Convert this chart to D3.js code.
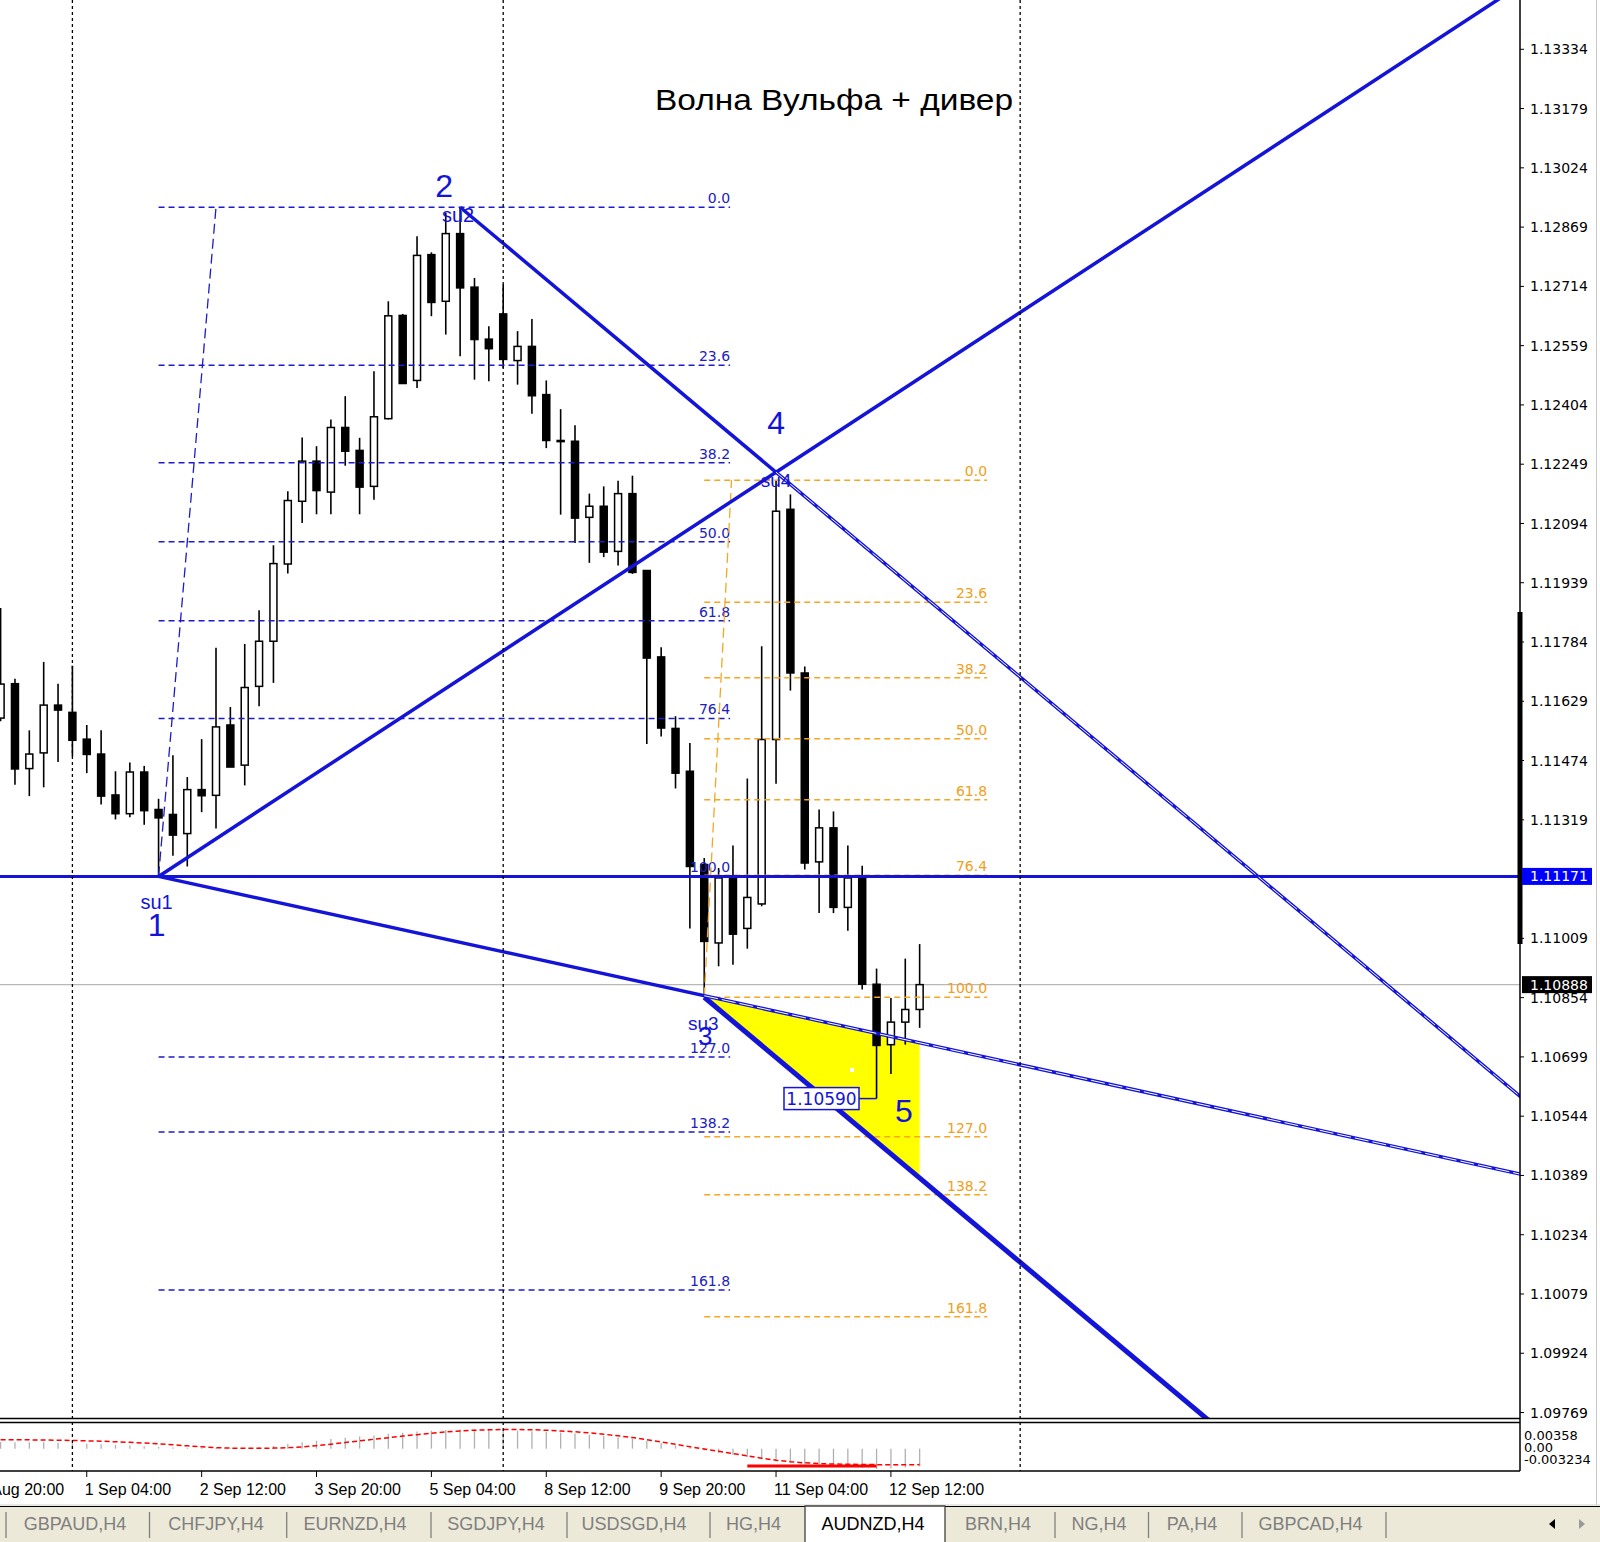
<!DOCTYPE html>
<html><head><meta charset="utf-8">
<script src="https://cdn.jsdelivr.net/npm/d3@7"></script>
<style>body{margin:0;background:#fff;overflow:hidden}svg{display:block}</style>
</head><body><script>
// ---------------- DATA ----------------
const firstBar = -5; // index of first bar (bar 0 = 1 Sep 00:00, H4)
const opens  = [1.11585,1.11675,1.11453,1.11494,1.11619,1.11600,1.11530,1.11491,1.11384,1.11335,1.11444,1.11346,1.11333,1.11283,1.11398,1.11383,1.11567,1.11462,1.11668,1.11786,1.11988,1.12152,1.12257,1.12176,1.12345,1.12285,1.12191,1.12368,1.12638,1.12468,1.12797,1.12675,1.12852,1.12712,1.12576,1.12642,1.12520,1.12557,1.12431,1.12311,1.12309,1.12110,1.12139,1.12021,1.12172,1.11971,1.11745,1.11558,1.11446,1.11202,1.10997,1.11165,1.11035,1.11099,1.11529,1.12131,1.11703,1.11209,1.11298,1.11090,1.11167,1.10889,1.10731,1.10790,1.10823];
const highs  = [1.11873,1.11688,1.11553,1.11732,1.11675,1.11722,1.11567,1.11553,1.11446,1.11469,1.11460,1.11374,1.11488,1.11431,1.11530,1.11769,1.11614,1.11779,1.11867,1.12037,1.12178,1.12319,1.12296,1.12366,1.12427,1.12318,1.12492,1.12675,1.12642,1.12845,1.12803,1.12906,1.12921,1.12736,1.12610,1.12719,1.12597,1.12629,1.12468,1.12393,1.12351,1.12172,1.12191,1.12206,1.12219,1.11971,1.11770,1.11590,1.11520,1.11219,1.11193,1.11252,1.11427,1.11773,1.12207,1.12170,1.11720,1.11346,1.11341,1.11252,1.11199,1.10930,1.10853,1.10956,1.10994];
const lows   = [1.11577,1.11411,1.11381,1.11404,1.11470,1.11485,1.11441,1.11359,1.11320,1.11326,1.11306,1.11171,1.11225,1.11197,1.11339,1.11296,1.11457,1.11409,1.11616,1.11677,1.11963,1.12095,1.12118,1.12118,1.12245,1.12118,1.12156,1.12366,1.12460,1.12448,1.12636,1.12588,1.12531,1.12470,1.12466,1.12501,1.12457,1.12381,1.12291,1.12117,1.12043,1.11991,1.12006,1.11984,1.11962,1.11517,1.11537,1.11401,1.11035,1.10855,1.10936,1.10940,1.10982,1.11093,1.11413,1.11657,1.11189,1.11075,1.11075,1.11029,1.10875,1.10590,1.10654,1.10731,1.10775];
const closes = [1.11674,1.11452,1.11491,1.11619,1.11606,1.11527,1.11490,1.11381,1.11335,1.11444,1.11343,1.11324,1.11279,1.11398,1.11382,1.11562,1.11457,1.11665,1.11786,1.11989,1.12154,1.12257,1.12180,1.12345,1.12283,1.12189,1.12373,1.12637,1.12460,1.12795,1.12672,1.12852,1.12710,1.12575,1.12551,1.12523,1.12557,1.12428,1.12311,1.12308,1.12108,1.12139,1.12019,1.12172,1.11966,1.11742,1.11559,1.11441,1.11197,1.11001,1.11167,1.11020,1.11116,1.11529,1.12126,1.11703,1.11206,1.11298,1.11090,1.11167,1.10889,1.10729,1.10790,1.10823,1.10888];

const macdMain   = [0.00100,0.00098,0.00095,0.00095,0.00090,0.00082,0.00075,0.00068,0.00058,0.00048,0.00038,0.00025,0.00018,0.00012,0.00010,0.00012,0.00010,0.00015,0.00022,0.00040,0.00070,0.00098,0.00120,0.00145,0.00165,0.00185,0.00200,0.00225,0.00240,0.00258,0.00272,0.00283,0.00290,0.00290,0.00287,0.00280,0.00272,0.00262,0.00252,0.00242,0.00228,0.00210,0.00190,0.00172,0.00150,0.00118,0.00085,0.00048,0.00010,-0.00030,-0.00065,-0.00095,-0.00125,-0.00160,-0.00190,-0.00215,-0.00245,-0.00262,-0.00275,-0.00285,-0.00295,-0.00310,-0.00300,-0.00285,-0.00270];
const macdSignal = [0.00134,0.00134,0.00133,0.00131,0.00128,0.00124,0.00118,0.00112,0.00104,0.00095,0.00085,0.00072,0.00058,0.00042,0.00028,0.00015,0.00008,0.00005,0.00005,0.00008,0.00015,0.00025,0.00045,0.00068,0.00092,0.00118,0.00142,0.00165,0.00190,0.00212,0.00232,0.00252,0.00268,0.00279,0.00286,0.00289,0.00289,0.00286,0.00279,0.00268,0.00255,0.00238,0.00218,0.00195,0.00168,0.00135,0.00100,0.00065,0.00030,-0.00005,-0.00040,-0.00075,-0.00110,-0.00145,-0.00175,-0.00198,-0.00215,-0.00226,-0.00233,-0.00237,-0.00240,-0.00242,-0.00243,-0.00243,-0.00242];
const macdAxisLabels = ["0.00358","0.00","-0.003234"];
const macdAxisValues = [0.00358, 0.0, -0.003234];
const divergenceBars = [47, 56];
const divergenceValue = -0.00263;

const timeTickBars   = [-7,1,9,17,25,33,41,49,57];
const timeTickLabels = ["28 Aug 20:00","1 Sep 04:00","2 Sep 12:00","3 Sep 20:00","5 Sep 04:00","8 Sep 12:00","9 Sep 20:00","11 Sep 04:00","12 Sep 12:00"];
const separatorBars  = [0, 30, 66];

const priceTicks = [1.13334,1.13179,1.13024,1.12869,1.12714,1.12559,1.12404,1.12249,1.12094,1.11939,1.11784,1.11629,1.11474,1.11319,1.11009,1.10854,1.10699,1.10544,1.10389,1.10234,1.10079,1.09924,1.09769];
const hLinePrice = 1.11171;
const bidPrice = 1.10888;
const lowMarkPrice = 1.10590;

const wavePoints = [ // Wolfe wave pivots
  {name:"1", bar:6,  price:1.11171},
  {name:"2", bar:27, price:1.12921},
  {name:"3", bar:44, price:1.10855},
  {name:"4", bar:49, price:1.12228},
  {name:"5", bar:59, price:null}
];
const line13Anchor = {bar:44, price:1.10859};

const fibLevels = [0.0,23.6,38.2,50.0,61.8,76.4,100.0,127.0,138.2,161.8];
const fibBlue   = {fromBar:6,  fromPrice:1.11171, toBar:10,   toPrice:1.12921, endBar:45.8};
const fibOrange = {fromBar:44, fromPrice:1.10855, toBar:45.9, toPrice:1.12207, endBar:63.7};

const tabNames   = ["GBPAUD,H4","CHFJPY,H4","EURNZD,H4","SGDJPY,H4","USDSGD,H4","HG,H4","AUDNZD,H4","BRN,H4","NG,H4","PA,H4","GBPCAD,H4"];
const activeTab  = "AUDNZD,H4";
const title = "Волна Вульфа + дивер";

// ---------------- LAYOUT ----------------
const W=1600,H=1542;
const plotR=1520, mainB=1418, indT=1423, indB=1471;
const x  = d3.scaleLinear().domain([-5.042,100.808]).range([0,plotR]);
const y  = d3.scaleLinear().domain([1.097513,1.134595]).range([mainB+1.3,1.3]);
const yi = d3.scaleLinear().domain([-0.003234,0.00358]).range([1470,1425]);
const BLUE="#1414d8", FIBBLUE="#1c1cc8", ORANGE="#f5a623";

const bars = d3.range(opens.length).map(i=>({bar:firstBar+i,o:opens[i],h:highs[i],l:lows[i],c:closes[i],m:macdMain[i],s:macdSignal[i]}));

const svg = d3.select("body").append("svg").attr("width",W).attr("height",H);
svg.append("rect").attr("width",W).attr("height",H).attr("fill","#fff");
const defs = svg.append("defs");
defs.append("clipPath").attr("id","cm").append("rect").attr("x",0).attr("y",0).attr("width",plotR).attr("height",mainB);
defs.append("clipPath").attr("id","ci").append("rect").attr("x",0).attr("y",indT).attr("width",plotR).attr("height",indB-indT);

const main = svg.append("g").attr("clip-path","url(#cm)");
const ind  = svg.append("g").attr("clip-path","url(#ci)");

// period separators
separatorBars.forEach(b=>{
  svg.append("line").attr("x1",x(b)).attr("x2",x(b)).attr("y1",0).attr("y2",indB)
    .attr("stroke","#000").attr("stroke-width",1.3).attr("stroke-dasharray","3,3");
});

// helpers
const P = (bar,price)=>[x(bar),y(price)];
function extend(p1,p2,t){return [p1[0]+(p2[0]-p1[0])*t, p1[1]+(p2[1]-p1[1])*t];}
function atX(p1,p2,xx){const t=(xx-p1[0])/(p2[0]-p1[0]);return [xx,p1[1]+(p2[1]-p1[1])*t];}

const w1=P(wavePoints[0].bar,wavePoints[0].price), w2=P(wavePoints[1].bar,wavePoints[1].price),
      w3=P(wavePoints[2].bar,wavePoints[2].price), w4=P(wavePoints[3].bar,wavePoints[3].price);
const c13=P(line13Anchor.bar,line13Anchor.price);
const dirB=[w4[0]-w2[0],w4[1]-w2[1]];
const w3b=[w3[0]+dirB[0],w3[1]+dirB[1]];
const x5 = x(wavePoints[4].bar);

// yellow triangle
const triC = atX(w1,c13,x5), triD = atX(w3,w3b,x5);
main.append("path").attr("d",d3.line()([w3,triC,triD])+"Z").attr("fill","#ffff00");
main.append("rect").attr("x",850).attr("y",1068).attr("width",4).attr("height",4).attr("fill","#fff");

// bid line
main.append("line").attr("x1",0).attr("x2",plotR).attr("y1",y(bidPrice)).attr("y2",y(bidPrice)).attr("stroke","#b8b8b8").attr("stroke-width",1.2);

// candles
const cg = main.append("g");
bars.forEach(d=>{
  const cx=x(d.bar);
  cg.append("line").attr("x1",cx).attr("x2",cx).attr("y1",y(d.h)).attr("y2",y(d.l)).attr("stroke","#000").attr("stroke-width",1.6);
  const top=y(Math.max(d.o,d.c)), bot=y(Math.min(d.o,d.c));
  cg.append("rect").attr("x",cx-3.5).attr("y",top).attr("width",7).attr("height",Math.max(bot-top,1))
    .attr("fill",d.c>=d.o?"#fff":"#000").attr("stroke","#000").attr("stroke-width",1.5);
});

// fib retracements
function drawFib(f,color,labelColor){
  const range=f.toPrice-f.fromPrice;
  const x0=x(f.fromBar), x1=x(f.endBar);
  main.append("line").attr("x1",x(f.fromBar)).attr("y1",y(f.fromPrice)).attr("x2",x(f.toBar)).attr("y2",y(f.toPrice))
    .attr("stroke",color).attr("stroke-width",1.3).attr("stroke-dasharray","10,5");
  fibLevels.forEach(l=>{
    const py=y(f.toPrice-range*l/100);
    main.append("line").attr("x1",x0).attr("x2",x1).attr("y1",py).attr("y2",py)
      .attr("stroke",color).attr("stroke-width",1.5).attr("stroke-dasharray","6,4");
    main.append("text").attr("x",x1).attr("y",py-4).attr("text-anchor","end")
      .attr("font-family","DejaVu Sans").attr("font-size",14).attr("fill",labelColor).text(l.toFixed(1));
  });
}
drawFib(fibBlue,FIBBLUE,"#2020c0");
drawFib(fibOrange,ORANGE,"#f0a020");

// horizontal line at point 1
main.append("line").attr("x1",0).attr("x2",plotR).attr("y1",y(hLinePrice)).attr("y2",y(hLinePrice)).attr("stroke",BLUE).attr("stroke-width",3);

// wolfe lines
function seg(a,b,wdt,col,dash){const l=main.append("line").attr("x1",a[0]).attr("y1",a[1]).attr("x2",b[0]).attr("y2",b[1]).attr("stroke",col).attr("stroke-width",wdt);if(dash)l.attr("stroke-dasharray",dash);return l;}
seg(w1,extend(w1,w4,4),3.5,BLUE);            // 1-4
seg(w2,extend(w2,w4,6),3.5,BLUE);            // 2-4
seg(w1,extend(w1,c13,6),3.5,BLUE);           // 1-3
seg(w3,extend(w3,w3b,4),5,BLUE);             // target line from 3
seg(w4,extend(w2,w4,6),1,"#fff","14,4");
seg(c13,extend(w1,c13,6),1,"#fff","14,4");

// low mark label
const lowY=y(lowMarkPrice), lowX=x(56);
main.append("line").attr("x1",859).attr("x2",lowX).attr("y1",lowY).attr("y2",lowY).attr("stroke",BLUE).attr("stroke-width",1.5);
main.append("rect").attr("x",784).attr("y",lowY-11).attr("width",75).attr("height",22).attr("fill","#fff").attr("stroke",BLUE).attr("stroke-width",1.5);
main.append("text").attr("x",821.5).attr("y",lowY).attr("dy","0.36em").attr("text-anchor","middle").attr("font-family","DejaVu Sans").attr("font-size",17).attr("fill",BLUE).text(lowMarkPrice.toFixed(5));

// wave labels
function lab(t,px,py,size,fam){main.append("text").attr("x",px).attr("y",py).attr("dy","0.36em").attr("text-anchor","middle").attr("font-family",fam||"Liberation Sans").attr("font-size",size).attr("fill",BLUE).text(t);}
lab("su1",w1[0]-2,w1[1]+25,20);
lab("1",w1[0]-2,w1[1]+48,32);
lab("su2",w2[0]-2,w2[1]+8,20);
lab("2",w2[0]-16,w2[1]-22,32);
lab("su3",w3[0]-1,w3[1]+26,19);
lab("3",w3[0]+1,w3[1]+38,26);
lab("su4",w4[0],w4[1]+8,19);
lab("4",w4[0],w4[1]-50,32);
lab("5",x(57.9),y(1.10559),32);

// title
svg.append("text").attr("x",655).attr("y",110).attr("font-family","Liberation Sans").attr("font-size",30)
  .attr("textLength",358).attr("lengthAdjust","spacingAndGlyphs").attr("fill","#000").text(title);

// ---- indicator ----
const hz=yi(0);
bars.forEach(d=>{
  ind.append("line").attr("x1",x(d.bar)).attr("x2",x(d.bar)).attr("y1",hz).attr("y2",yi(d.m)).attr("stroke","#b0b0b0").attr("stroke-width",1.3);
});
ind.append("path").attr("d",d3.line().x(d=>x(d.bar)).y(d=>yi(d.s))(bars)).attr("fill","none").attr("stroke","#ff0000").attr("stroke-width",1.5).attr("stroke-dasharray","5,3");
ind.append("line").attr("x1",x(divergenceBars[0])).attr("x2",x(divergenceBars[1])).attr("y1",yi(divergenceValue)).attr("y2",yi(divergenceValue)).attr("stroke","#ff0000").attr("stroke-width",3);

// frames
svg.append("line").attr("x1",0).attr("x2",plotR).attr("y1",mainB+0.5).attr("y2",mainB+0.5).attr("stroke","#000").attr("stroke-width",1.5);
svg.append("line").attr("x1",0).attr("x2",plotR).attr("y1",indT-0.5).attr("y2",indT-0.5).attr("stroke","#000").attr("stroke-width",1.5);
svg.append("line").attr("x1",0).attr("x2",plotR).attr("y1",indB).attr("y2",indB).attr("stroke","#000").attr("stroke-width",1.5);
svg.append("line").attr("x1",plotR).attr("x2",plotR).attr("y1",0).attr("y2",indB).attr("stroke","#000").attr("stroke-width",1.5);
svg.append("rect").attr("x",plotR-2.5).attr("y",612).attr("width",5).attr("height",332).attr("fill","#000");

// price axis
priceTicks.forEach(p=>{
  svg.append("line").attr("x1",plotR).attr("x2",plotR+4).attr("y1",y(p)).attr("y2",y(p)).attr("stroke","#000");
  svg.append("text").attr("x",1530).attr("y",y(p)).attr("dy","0.36em").attr("font-family","DejaVu Sans").attr("font-size",14).attr("fill","#000").text(p.toFixed(5));
});
function priceBox(p,bg){
  svg.append("rect").attr("x",plotR+2).attr("y",y(p)-8.5).attr("width",70).attr("height",17).attr("fill",bg);
  svg.append("text").attr("x",1530).attr("y",y(p)).attr("dy","0.36em").attr("font-family","DejaVu Sans").attr("font-size",14).attr("fill","#fff").text(p.toFixed(5));
}
priceBox(hLinePrice,"#0000ff");
priceBox(bidPrice,"#000");
// indicator axis
macdAxisLabels.forEach((t,i)=>{
  const off=[10,-1,-11][i];
  svg.append("text").attr("x",1524).attr("y",yi(macdAxisValues[i])+off).attr("dy","0.36em").attr("font-family","DejaVu Sans").attr("font-size",13).attr("fill","#000").text(t);
});

// time axis
timeTickBars.forEach((b,i)=>{
  svg.append("line").attr("x1",x(b)).attr("x2",x(b)).attr("y1",indB).attr("y2",indB+6).attr("stroke","#000");
  svg.append("text").attr("x",x(b)-2).attr("y",1489).attr("dy","0.36em").attr("font-family","Liberation Sans").attr("font-size",16).attr("fill","#000").text(timeTickLabels[i]);
});

// right border
svg.append("line").attr("x1",1596.5).attr("x2",1596.5).attr("y1",0).attr("y2",1505).attr("stroke","#c8c8c8");

// tabs
const tabY=1506;
svg.append("rect").attr("x",0).attr("y",tabY).attr("width",W).attr("height",H-tabY).attr("fill","#ece9d8");
svg.append("line").attr("x1",0).attr("x2",W).attr("y1",tabY-1).attr("y2",tabY-1).attr("stroke","#d4d0c8").attr("stroke-width",1);
svg.append("line").attr("x1",0).attr("x2",W).attr("y1",tabY+0.5).attr("y2",tabY+0.5).attr("stroke","#000").attr("stroke-width",1.2);
const tabCenters=[75,216,355,496,634,753.6,873,998,1099,1192,1310.6];
const tabSeps=[6,149.5,286.7,431,567,710,1055,1148.5,1242,1386];
tabSeps.forEach(s=>svg.append("line").attr("x1",s).attr("x2",s).attr("y1",1512).attr("y2",1538).attr("stroke","#808080").attr("stroke-width",1.3));
svg.append("path").attr("d","M805,1542V1506H945V1542").attr("fill","#fff").attr("stroke","#404040").attr("stroke-width",1.3);
tabNames.forEach((t,i)=>{
  svg.append("text").attr("x",tabCenters[i]).attr("y",1524).attr("dy","0.36em").attr("text-anchor","middle")
    .attr("font-family","Liberation Sans").attr("font-size",18).attr("fill",t===activeTab?"#000":"#7f7f7f").text(t);
});
svg.append("path").attr("d","M1549,1524L1555,1519V1529Z").attr("fill","#000");
svg.append("path").attr("d","M1585,1524L1579,1519V1529Z").attr("fill","#9a9a9a");
</script></body></html>
